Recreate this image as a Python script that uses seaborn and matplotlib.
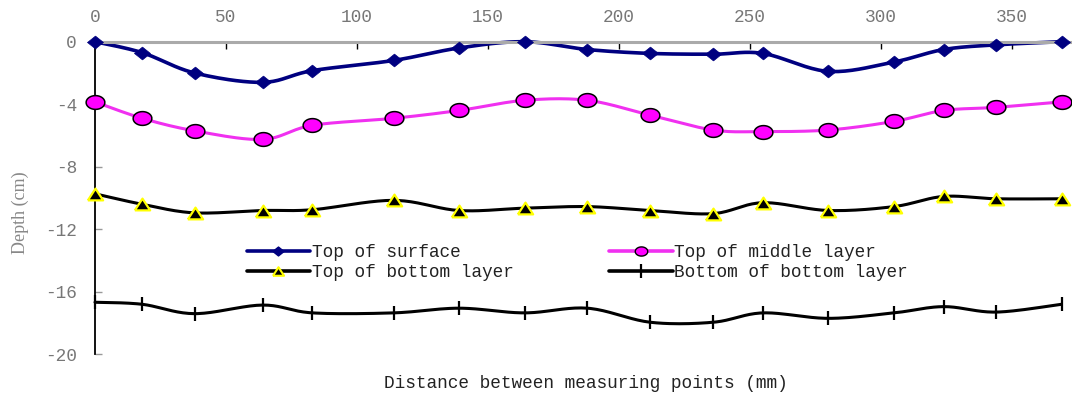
import numpy as np
import pandas as pd
import matplotlib
matplotlib.use("Agg")
import matplotlib.pyplot as plt
from matplotlib.lines import Line2D
import seaborn as sns

# Datos
distancia = [0, 18, 38, 64, 83, 114, 139, 164, 188, 212, 236, 255, 280, 305, 324, 344, 369]
top_surface = [0, -0.7, -2.0, -2.6, -1.85, -1.2, -0.4, 0, -0.5, -0.75, -0.8, -0.75, -1.9, -1.3, -0.5, -0.2, 0]
top_middle = [-3.85, -4.9, -5.7, -6.25, -5.35, -4.9, -4.4, -3.75, -3.75, -4.7, -5.65, -5.75, -5.65, -5.1, -4.4, -4.2, -3.85]
top_bottom = [-9.73, -10.4, -10.95, -10.8, -10.75, -10.15, -10.8, -10.65, -10.55, -10.8, -11.0, -10.3, -10.8, -10.55, -9.9, -10.05, -10.05]
bottom_bottom = [-16.67, -16.8, -17.4, -16.85, -17.35, -17.35, -17.05, -17.35, -17.05, -17.95, -17.95, -17.35, -17.7, -17.35, -16.95, -17.3, -16.8]

etiquetas = ["Top of surface", "Top of bottom layer", "Top of middle layer", "Bottom of bottom layer"]


def suavizar(x, y, n=20):
    # curva suavizada tipo Catmull-Rom (como la linea suavizada de Excel)
    p = np.column_stack([x, y]).astype(float)
    p = np.vstack([p[0], p, p[-1]])
    t = np.linspace(0, 1, n, endpoint=False)[:, None]
    partes = []
    for i in range(1, len(p) - 2):
        p0, p1, p2, p3 = p[i - 1], p[i], p[i + 1], p[i + 2]
        seg = 0.5 * (2 * p1 + (-p0 + p2) * t + (2 * p0 - 5 * p1 + 4 * p2 - p3) * t ** 2
                     + (-p0 + 3 * p1 - 3 * p2 + p3) * t ** 3)
        partes.append(seg)
    partes.append(p[-2][None])
    c = np.vstack(partes)
    return c[:, 0], c[:, 1]


# marcadores "estirados" como en la imagen original
ang = np.linspace(0, 2 * np.pi, 40)
elipse = list(zip(1.36 * np.cos(ang), np.sin(ang)))
rombo = [(-1, 0), (0, 0.8), (1, 0), (0, -0.8), (-1, 0)]
triangulo = [(-0.65, -0.5), (0.65, -0.5), (0, 0.5), (-0.65, -0.5)]

sns.set_theme(style="white")
plt.rcParams["font.family"] = ["Liberation Mono", "DejaVu Sans Mono"]
plt.rcParams["axes.unicode_minus"] = False

fig = plt.figure(figsize=(10.72, 3.94), dpi=100)
ax = fig.add_axes([95 / 1072, 1 - 354.3 / 394, 1 - 95 / 1072, (354.3 - 41.7) / 394])

series = [
    (top_surface, dict(color="#000080", lw=2.6), dict(marker=rombo, s=11.5 ** 2, color="#000080", edgecolor="#000080", linewidth=0.5)),
    (top_middle, dict(color="#f030f0", lw=2.2), dict(marker=elipse, s=13.5 ** 2, color="#ff00ff", edgecolor="black", linewidth=1.1)),
    (top_bottom, dict(color="black", lw=2.2), dict(marker=triangulo, s=11 ** 2, color="black", edgecolor="#ffff00", linewidth=1.6)),
    (bottom_bottom, dict(color="black", lw=2.2), dict(marker="|", s=10 ** 2, color="black", linewidth=1.6)),
]

for valores, estilo_linea, estilo_marca in series:
    xs, ys = suavizar(distancia, valores)
    sns.lineplot(x=xs, y=ys, ax=ax, estimator=None, sort=False, clip_on=False, **estilo_linea)
    df = pd.DataFrame({"x": distancia, "y": valores})
    sns.scatterplot(data=df, x="x", y="y", ax=ax, clip_on=False, zorder=5, **estilo_marca)

ax.set_xlim(0, 373)
ax.set_ylim(-20, 0)
ax.set_xticks(range(0, 351, 50))
ax.set_yticks(range(-20, 1, 4))
ax.set_xlabel("")
ax.set_ylabel("")

# eje x arriba
ax.xaxis.tick_top()
ax.tick_params(axis="x", direction="in", length=5, width=1, color="black", pad=11,
               labelsize=12.8, labelcolor="#777777")
ax.tick_params(axis="y", direction="in", length=5, width=1, color="#999999", pad=13,
               labelsize=12.8, labelcolor="#777777", left=True)
for lado in ["bottom", "right"]:
    ax.spines[lado].set_visible(False)
ax.spines["top"].set_color("#aaaaaa")
ax.spines["top"].set_linewidth(2.2)
ax.spines["left"].set_color("black")
ax.spines["left"].set_linewidth(1.3)

fig.text(20 / 1072, 1 - 213 / 394, "Depth (cm)", rotation=90, ha="center", va="center",
         fontsize=13, color="#888888", family="Liberation Serif")
fig.text(586 / 1072, 1 - 383 / 394, "Distance between measuring points (mm)", ha="center", va="center",
         fontsize=12.8, color="#222222")

# leyenda
manijas = [
    Line2D([], [], color="#000080", lw=2.6, marker=rombo, markersize=8, markerfacecolor="#000080", markeredgecolor="#000080"),
    Line2D([], [], color="black", lw=2.6, marker=triangulo, markersize=8, markerfacecolor="black", markeredgecolor="#ffff00", markeredgewidth=1.5),
    Line2D([], [], color="#f030f0", lw=2.6, marker=elipse, markersize=9, markerfacecolor="#ff00ff", markeredgecolor="black", markeredgewidth=1),
    Line2D([], [], color="black", lw=2.6, marker="|", markersize=10, markeredgewidth=1.6),
]
ax.legend(manijas, etiquetas, ncol=2, frameon=False, loc="upper left",
          bbox_to_anchor=(246.7 / 1072, 1 - 244 / 394), bbox_transform=fig.transFigure,
          borderpad=0, borderaxespad=0, handlelength=3.55, handletextpad=0.1,
          columnspacing=5.4, labelspacing=0.18, prop={"size": 12.8}, labelcolor="#222222")

fig.savefig("out.png", dpi=100)
